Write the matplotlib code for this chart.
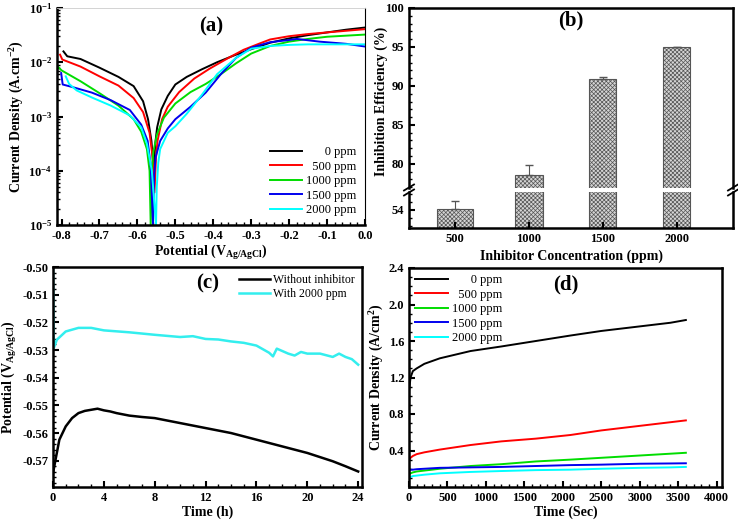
import matplotlib
matplotlib.use("Agg")
import matplotlib.pyplot as plt
import numpy as np
from matplotlib.ticker import MultipleLocator, FormatStrFormatter, LogLocator

plt.rcParams['font.family'] = ['Liberation Serif', 'DejaVu Serif']
plt.rcParams['font.weight'] = 'bold'
plt.rcParams['axes.labelweight'] = 'bold'
plt.rcParams['mathtext.fontset'] = 'custom'
plt.rcParams['mathtext.rm'] = 'Liberation Serif:bold'
plt.rcParams['mathtext.bf'] = 'Liberation Serif:bold'
plt.rcParams['mathtext.it'] = 'Liberation Serif:bold'
plt.rcParams['xtick.direction'] = 'in'
plt.rcParams['ytick.direction'] = 'in'
plt.rcParams['hatch.linewidth'] = 0.5

# ---- (a) Tafel curves: potential (V) and log10 current density
conc_labels = ['0 ppm', '500 ppm', '1000 ppm', '1500 ppm', '2000 ppm']
tafel_colors = ['black', 'red', '#00dd00', '#0000ee', 'cyan']

tafel_E = [
    [-0.795, -0.785, -0.75, -0.70, -0.65, -0.61, -0.585, -0.572, -0.563, -0.557, -0.553, -0.548, -0.537, -0.52, -0.50, -0.47, -0.43, -0.39, -0.34, -0.30, -0.25, -0.20, -0.15, -0.10, -0.05, 0.0],
    [-0.804, -0.798, -0.75, -0.70, -0.65, -0.61, -0.585, -0.568, -0.560, -0.555, -0.551, -0.547, -0.535, -0.52, -0.49, -0.45, -0.41, -0.36, -0.32, -0.28, -0.25, -0.20, -0.15, -0.10, -0.05, 0.0],
    [-0.811, -0.80, -0.75, -0.70, -0.65, -0.61, -0.59, -0.575, -0.568, -0.565, -0.562, -0.558, -0.548, -0.53, -0.50, -0.46, -0.42, -0.38, -0.34, -0.30, -0.25, -0.20, -0.15, -0.10, -0.05, 0.0],
    [-0.801, -0.797, -0.77, -0.72, -0.67, -0.62, -0.59, -0.573, -0.565, -0.559, -0.556, -0.552, -0.54, -0.52, -0.50, -0.46, -0.42, -0.38, -0.34, -0.30, -0.25, -0.20, -0.18, -0.12, -0.05, 0.0],
    [-0.789, -0.78, -0.76, -0.72, -0.67, -0.62, -0.59, -0.575, -0.562, -0.551, -0.549, -0.545, -0.54, -0.52, -0.50, -0.47, -0.43, -0.39, -0.34, -0.30, -0.25, -0.20, -0.15, -0.10, -0.05, 0.0],
]
tafel_logi = [
    [-1.80, -1.89, -1.94, -2.10, -2.27, -2.44, -2.72, -3.05, -3.45, -3.98, -3.50, -3.20, -2.87, -2.62, -2.41, -2.27, -2.13, -2.00, -1.86, -1.76, -1.64, -1.56, -1.50, -1.45, -1.40, -1.36],
    [-1.86, -1.95, -2.08, -2.26, -2.43, -2.66, -2.92, -3.30, -3.75, -4.40, -3.75, -3.45, -3.05, -2.82, -2.55, -2.30, -2.12, -1.92, -1.77, -1.66, -1.58, -1.52, -1.48, -1.45, -1.42, -1.39],
    [-2.07, -2.15, -2.35, -2.57, -2.80, -3.05, -3.28, -3.60, -4.00, -5.00, -4.00, -3.65, -3.32, -3.02, -2.76, -2.55, -2.40, -2.22, -2.02, -1.84, -1.70, -1.62, -1.57, -1.53, -1.51, -1.49],
    [-2.20, -2.41, -2.46, -2.56, -2.70, -2.88, -3.15, -3.45, -3.90, -5.00, -4.10, -3.75, -3.45, -3.22, -3.05, -2.82, -2.56, -2.22, -1.92, -1.73, -1.63, -1.59, -1.57, -1.62, -1.66, -1.71],
    [-2.26, -2.40, -2.52, -2.65, -2.80, -2.98, -3.20, -3.50, -4.00, -5.00, -4.30, -3.85, -3.60, -3.30, -3.18, -2.95, -2.60, -2.22, -1.92, -1.75, -1.70, -1.68, -1.67, -1.67, -1.67, -1.67],
]

# ---- (b) inhibition efficiency
ie_conc = ['500', '1000', '1500', '2000']
ie_values = [54.1, 78.6, 90.9, 95.0]
ie_err = [1.0, 1.3, 0.2, 0.05]

# ---- (c) open circuit potential vs time
ocp_t_blank = [0, 0.2, 0.5, 1, 1.5, 2, 2.5, 3, 3.5, 4, 4.5, 5, 6, 7, 8, 9, 10, 12, 14, 16, 18, 20, 22, 23, 24]
ocp_v_blank = [-0.5745, -0.5696, -0.5624, -0.5576, -0.5546, -0.5528, -0.5520, -0.5516, -0.5512, -0.5518, -0.5522, -0.5528, -0.5537, -0.5542, -0.5546, -0.5555, -0.5564, -0.5582, -0.5600, -0.5624, -0.5648, -0.5672, -0.5702, -0.5720, -0.5739]
ocp_t_inh = [0, 0.03, 0.06, 0.3, 1, 2, 3, 4, 6, 8, 10, 11, 12, 13, 14, 15, 16, 17, 17.3, 17.6, 18.5, 19, 19.5, 20, 21, 22, 22.5, 23, 23.5, 24]
ocp_v_inh = [-0.500, -0.515, -0.5293, -0.5263, -0.5233, -0.5220, -0.5220, -0.5229, -0.5236, -0.5245, -0.5253, -0.5250, -0.5260, -0.5262, -0.5269, -0.5274, -0.5284, -0.5310, -0.5323, -0.5295, -0.5313, -0.5320, -0.5307, -0.5313, -0.5313, -0.5325, -0.5313, -0.5325, -0.5333, -0.5353]

# ---- (d) current density vs time
ca_t = [0, 20, 50, 100, 200, 400, 800, 1200, 1650, 2100, 2500, 3000, 3400, 3600]
ca_i = [
    [1.05, 1.20, 1.27, 1.30, 1.35, 1.41, 1.49, 1.54, 1.60, 1.66, 1.71, 1.76, 1.80, 1.83],
    [0.30, 0.32, 0.34, 0.36, 0.38, 0.41, 0.46, 0.50, 0.53, 0.57, 0.62, 0.67, 0.71, 0.73],
    [0.14, 0.15, 0.16, 0.17, 0.18, 0.20, 0.23, 0.25, 0.28, 0.30, 0.32, 0.345, 0.365, 0.375],
    [0.20, 0.19, 0.19, 0.195, 0.20, 0.21, 0.215, 0.22, 0.23, 0.24, 0.245, 0.255, 0.258, 0.26],
    [0.10, 0.11, 0.12, 0.125, 0.135, 0.15, 0.165, 0.175, 0.185, 0.19, 0.20, 0.21, 0.215, 0.22],
]

fig = plt.figure(figsize=(7.38, 5.21), dpi=100)
W, H = 738.0, 521.0
legend_font = {'weight': 'normal', 'size': 9}


def add_axes_px(x0, y0, x1, y1):
    return fig.add_axes([x0 / W, 1 - y1 / H, (x1 - x0) / W, (y1 - y0) / H])


def style_axes(ax):
    for s in ax.spines.values():
        s.set_linewidth(1.8)
    ax.tick_params(which='major', length=4, width=1.5, labelsize=9)
    ax.tick_params(which='minor', length=2, width=1.0)
    for lab in ax.get_xticklabels() + ax.get_yticklabels():
        lab.set_fontweight('bold')


def padded(labels):
    # right-align the ppm labels the way the original legend does (digit = 2 spaces)
    n = max(len(l) for l in labels)
    return [' ' * 2 * (n - len(l)) + l for l in labels]


legend_labels = padded(conc_labels)

# (a)
ax = add_axes_px(57, 8, 365, 225)
for E, li, c, lab in zip(tafel_E, tafel_logi, tafel_colors, legend_labels):
    ax.semilogy(E, 10 ** np.array(li), color=c, lw=1.4, label=lab)
ax.set_xlim(-0.812, 0.0)
ax.set_ylim(1e-5, 1e-1)
ax.xaxis.set_major_locator(MultipleLocator(0.1))
ax.xaxis.set_minor_locator(MultipleLocator(0.02))
ax.xaxis.set_major_formatter(FormatStrFormatter('%.1f'))
ax.yaxis.set_major_locator(LogLocator(base=10, numticks=10))
ax.set_xlabel('Potential (V$_{Ag/AgCl}$)', fontsize=10, labelpad=1)
ax.set_ylabel('Current Density (A.cm$^{-2}$)', fontsize=10, labelpad=2)
style_axes(ax)
ax.spines['top'].set_color('#cccccc')
ax.spines['top'].set_linewidth(0.6)
ax.spines['right'].set_linewidth(0.8)
ax.text(0.5, 0.96, '(a)', transform=ax.transAxes, ha='center', va='top', fontsize=15, fontweight='bold')
ax.legend(loc='lower right', frameon=False, prop=legend_font, handlelength=2.6, handletextpad=0.3,
          labelspacing=0.2, borderaxespad=0.3)

# (b) broken axis bar chart
xpos = np.arange(len(ie_conc))
bar_w = [0.49, 0.37, 0.37, 0.37]
ax_top = add_axes_px(409, 8, 733, 188)
ax_bot = add_axes_px(409, 192, 733, 228)
for a in (ax_top, ax_bot):
    a.bar(xpos, ie_values, width=bar_w, color='#d4d4d4', edgecolor='#555555', hatch='xxxxxxxx', linewidth=0.8)
    a.errorbar(xpos, ie_values, yerr=[np.zeros(len(ie_err)), ie_err], fmt='none',
               ecolor='#555555', elinewidth=0.8, capsize=3)
    a.set_xlim(-0.62, 3.76)
    style_axes(a)
ax_top.set_ylim(76.9, 100)
ax_top.yaxis.set_major_locator(MultipleLocator(5))
ax_top.yaxis.set_minor_locator(MultipleLocator(1))
ax_top.spines['bottom'].set_visible(False)
ax_top.tick_params(axis='x', which='both', bottom=False, labelbottom=False)
ax_bot.set_ylim(51.7, 56.3)
ax_bot.set_yticks([54])
ax_bot.yaxis.set_minor_locator(MultipleLocator(1))
ax_bot.spines['top'].set_visible(False)
ax_bot.set_xticks(xpos)
ax_bot.set_xticklabels(ie_conc, fontweight='bold')
ax_bot.tick_params(axis='x', which='minor', bottom=False)
ax_bot.set_xlabel('Inhibitor Concentration (ppm)', fontsize=10, labelpad=3)
fig.text(381 / W, 1 - 101 / H, 'Inhibition Efficiency (%)', rotation=90, ha='center', va='center',
         fontsize=10, fontweight='bold')
ax_top.text(0.5, 0.985, '(b)', transform=ax_top.transAxes, ha='center', va='top', fontsize=15, fontweight='bold')
for xb in (409, 733):
    for dy in (-2.5, 2.5):
        fig.add_artist(plt.Line2D([(xb - 5) / W, (xb + 5) / W],
                                  [1 - (190 + dy + 3) / H, 1 - (190 + dy - 3) / H],
                                  color='black', lw=1.3))

# (c)
ax = add_axes_px(53, 267, 362, 487)
ax.plot(ocp_t_blank, ocp_v_blank, color='black', lw=1.8, label='Without inhibitor')
ax.plot(ocp_t_inh, ocp_v_inh, color='#33eeee', lw=1.8, label='With 2000 ppm')
ax.set_xlim(0, 24.3)
ax.set_ylim(-0.5795, -0.50)
ax.xaxis.set_major_locator(MultipleLocator(4))
ax.xaxis.set_minor_locator(MultipleLocator(1))
ax.yaxis.set_major_locator(MultipleLocator(0.01))
ax.yaxis.set_minor_locator(MultipleLocator(0.002))
ax.yaxis.set_major_formatter(FormatStrFormatter('%.2f'))
ax.set_xlabel('Time (h)', fontsize=10, labelpad=1)
ax.set_ylabel('Potential (V$_{Ag/AgCl}$)', fontsize=10, labelpad=2)
style_axes(ax)
ax.text(0.5, 0.97, '(c)', transform=ax.transAxes, ha='center', va='top', fontsize=15, fontweight='bold')
ax.legend(loc='upper right', frameon=False, prop={'weight': 'normal', 'size': 8.5}, handlelength=2.6,
          handletextpad=0.3, labelspacing=0.2, borderaxespad=0.2)

# (d)
ax = add_axes_px(409, 268, 722, 487)
for yi, c, lab in zip(ca_i, tafel_colors, legend_labels):
    ax.plot(ca_t, yi, color=c, lw=1.4, label=lab)
ax.set_xlim(0, 4070)
ax.set_ylim(0, 2.4)
ax.xaxis.set_major_locator(MultipleLocator(500))
ax.xaxis.set_minor_locator(MultipleLocator(100))
ax.yaxis.set_minor_locator(MultipleLocator(0.1))
ax.set_yticks([0.4, 0.8, 1.2, 1.6, 2.0, 2.4])
ax.yaxis.set_major_formatter(FormatStrFormatter('%.1f'))
ax.set_xlabel('Time (Sec)', fontsize=10, labelpad=1)
ax.set_ylabel('Current Density (A/cm$^{2}$)', fontsize=10, labelpad=2)
style_axes(ax)
ax.text(0.5, 0.97, '(d)', transform=ax.transAxes, ha='center', va='top', fontsize=15, fontweight='bold')
ax.legend(loc='upper left', frameon=False, prop=legend_font, handlelength=2.6, handletextpad=0.3,
          labelspacing=0.2, borderaxespad=0.1)

fig.savefig('out.png', dpi=100)
